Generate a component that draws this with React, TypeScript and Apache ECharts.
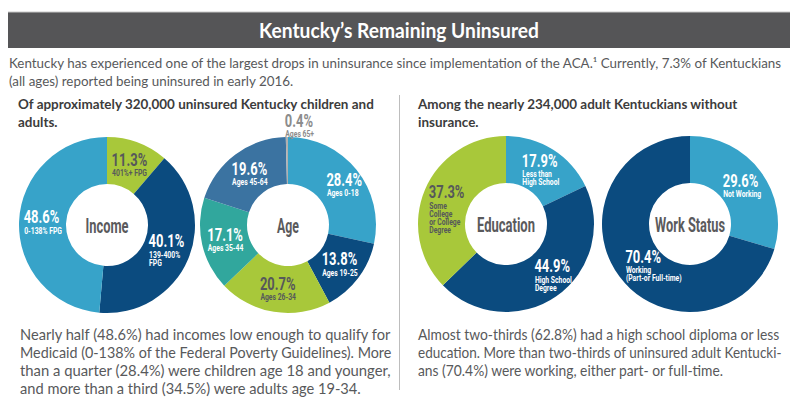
import React, { useEffect, useRef } from "react";
import * as echarts from "echarts";

const incomeNames = ["401%+ FPG", "139-400%\nFPG", "0-138% FPG"];
const incomeValues = [11.3, 40.1, 48.6];
const ageNames = ["Ages 0-18", "Ages 19-25", "Ages 26-34", "Ages 35-44", "Ages 45-64", "Ages 65+"];
const ageValues = [28.4, 13.8, 20.7, 17.1, 19.6, 0.4];
const eduNames = ["Less than\nHigh School", "High School\nDegree", "Some\nCollege\nor College\nDegree"];
const eduValues = [17.9, 44.9, 37.3];
const workNames = ["Not Working", "Working\n(Part-or Full-time)"];
const workValues = [29.6, 70.4];

const titleText = "Kentucky\u2019s Remaining Uninsured";
const introLines = [
  "Kentucky has experienced one of the largest drops in uninsurance since implementation of the ACA.\u00b9 Currently, 7.3% of Kentuckians",
  "(all ages) reported being uninsured in early 2016.",
];
const leftHeadLines = ["Of approximately 320,000 uninsured Kentucky children and", "adults."];
const rightHeadLines = ["Among the nearly 234,000 adult Kentuckians without", "insurance."];
const leftParaLines = [
  "Nearly half (48.6%) had incomes low enough to qualify for",
  "Medicaid (0-138% of the Federal Poverty Guidelines). More",
  "than a quarter (28.4%) were children age 18 and younger,",
  "and more than a third (34.5%) were adults age 19-34.",
];
const rightParaLines = [
  "Almost two-thirds (62.8%) had a high school diploma or less",
  "education. More than two-thirds of uninsured adult Kentucki-",
  "ans (70.4%) were working, either part- or full-time.",
];
const centerLabels = ["Income", "Age", "Education", "Work Status"];

const LIGHT = "#37a3c9";
const NAVY = "#0b4b7f";
const LIME = "#a8c83a";
const TEAL = "#31a79d";
const STEEL = "#3b73a1";
const GREYS = "#b0b0b0";

const COND = "Roboto, 'Noto Sans', sans-serif";
const BODY = "Lato, 'Open Sans', sans-serif";

let measureCtx: CanvasRenderingContext2D | null = null;
function measure(text: string, font: string): number {
  if (!measureCtx) measureCtx = document.createElement("canvas").getContext("2d");
  measureCtx!.font = font;
  return measureCtx!.measureText(text).width;
}

function textEl(text: string, x: number, y: number, font: string, fill: string, targetWidth: number | null, align: string = "left", scaleOverride?: number) {
  const s = scaleOverride ?? (targetWidth ? targetWidth / measure(text, font) : 1);
  return {
    type: "text",
    x,
    y,
    scaleX: s,
    silent: true,
    z: 10,
    style: { text, font, fill, textAlign: align, textVerticalAlign: "middle" },
  };
}

const PCT_FONT = `bold 18px ${COND}`;
const PCT_SCALE = 0.72;
const SUB_FONT = `bold 8.5px ${COND}`;
const SUB_SCALE = 0.8;
const R_IN = 41;
const R_OUT = 88;

// label blocks placed at each slice's middle angle (like the pie's own "inside" labels)
function sliceLabels(names: string[], values: number[], colors: string[], center: number[], offsets: Record<number, number[]> = {}) {
  const total = values.reduce((a, b) => a + b, 0);
  const rMid = (R_IN + R_OUT) / 2;
  let acc = 0;
  const els: any[] = [];
  values.forEach((v, i) => {
    const mid = ((acc + v / 2) / total) * Math.PI * 2;
    acc += v;
    const off = offsets[i] || [0, 0];
    const ax = center[0] + rMid * Math.sin(mid) + off[0];
    const ay = center[1] - rMid * Math.cos(mid) + off[1];
    const c = colors[i];
    const fill = c === LIME ? "#56585a" : c === GREYS ? "#8c8c8c" : "#ffffff";
    const pct = `${v.toFixed(1)}%`;
    const subs = names[i].split("\n");
    const w = Math.max(
      measure(pct, PCT_FONT) * PCT_SCALE,
      ...subs.map((s) => measure(s, SUB_FONT) * SUB_SCALE)
    );
    const H = 16 + 2 + 8 * subs.length;
    const left = ax - w / 2;
    const top = ay - H / 2;
    els.push(textEl(pct, left, top + 8, PCT_FONT, fill, null, "left", PCT_SCALE));
    subs.forEach((s, j) => {
      els.push(textEl(s, left + 0.5, top + 16 + 2 + 4 + 8 * j, SUB_FONT, fill, null, "left", SUB_SCALE));
    });
  });
  return els;
}

function pieSeries(names: string[], values: number[], colors: string[], center: number[]) {
  return {
    type: "pie",
    center,
    radius: [R_IN, R_OUT],
    startAngle: 90,
    clockwise: true,
    silent: true,
    emphasis: { disabled: true },
    label: { show: false },
    labelLine: { show: false },
    data: values.map((v, i) => ({ value: v, name: names[i], itemStyle: { color: colors[i] } })),
  };
}

export default function App() {
  const ref = useRef<HTMLDivElement>(null);
  useEffect(() => {
    document.body.style.margin = "0";
    const chart = echarts.init(ref.current!, null, { renderer: "svg" });

    const introFont = `14px ${BODY}`;
    const headFont = `bold 14px ${BODY}`;
    const paraFont = `14.5px ${BODY}`;
    const centerFont = `bold 21px ${COND}`;

    const introScale = 774 / measure(introLines[0], introFont);
    const lhScale = 357 / measure(leftHeadLines[0], headFont);
    const rhScale = 320 / measure(rightHeadLines[0], headFont);
    const lpScale = 372 / measure(leftParaLines[0], paraFont);
    const rpScale = 362 / measure(rightParaLines[0], paraFont);

    const centers = [[107, 225], [288, 225], [506, 224], [690, 224]];
    const centerWidths = [43, 22, 58, 70];
    const incomeColors = [LIME, NAVY, LIGHT];
    const ageColors = [LIGHT, NAVY, LIME, TEAL, STEEL, GREYS];
    const eduColors = [LIGHT, NAVY, LIME];
    const workColors = [LIGHT, NAVY];

    const graphic: any[] = [
      { type: "rect", silent: true, shape: { x: 8, y: 12, width: 782, height: 36 }, style: { fill: "#555557" } },
      { type: "line", silent: true, shape: { x1: 8, y1: 12, x2: 790, y2: 12 }, style: { stroke: "#c8c8c8", lineWidth: 1 } },
      textEl(titleText, 399, 30, `bold 20px ${BODY}`, "#ffffff", 280, "center"),
      textEl(introLines[0], 9, 62, introFont, "#58595b", null, "left", introScale),
      textEl(introLines[1], 9, 80, introFont, "#58595b", null, "left", introScale),
      textEl(leftHeadLines[0], 18, 103, headFont, "#3c3c3c", null, "left", lhScale),
      textEl(leftHeadLines[1], 18, 121, headFont, "#3c3c3c", null, "left", lhScale),
      textEl(rightHeadLines[0], 418, 103, headFont, "#3c3c3c", null, "left", rhScale),
      textEl(rightHeadLines[1], 418, 121, headFont, "#3c3c3c", null, "left", rhScale),
      { type: "line", silent: true, shape: { x1: 399.5, y1: 95, x2: 399.5, y2: 390 }, style: { stroke: "#bdbdbd", lineWidth: 1 } },
      ...leftParaLines.map((t, i) =>
        textEl(t, 20, 335 + i * 17.7, paraFont, "#58595b", i < 3 ? 372 : null, "left", i < 3 ? undefined : lpScale)
      ),
      ...rightParaLines.map((t, i) =>
        textEl(t, 418, 334 + i * 18, paraFont, "#58595b", i < 2 ? (i === 0 ? 362 : 364) : null, "left", i < 2 ? undefined : rpScale)
      ),
      ...centerLabels.map((t, i) =>
        textEl(t, centers[i][0], centers[i][1] + 1, centerFont, "#5a5a5c", centerWidths[i], "center")
      ),
      ...sliceLabels(incomeNames, incomeValues, incomeColors, centers[0]),
      ...sliceLabels(ageNames, ageValues, ageColors, centers[1], { 0: [6, 0], 5: [12, -35] }),
      ...sliceLabels(eduNames, eduValues, eduColors, centers[2], { 1: [10, -2], 2: [0, 10] }),
      ...sliceLabels(workNames, workValues, workColors, centers[3], { 1: [15, 3] }),
    ];

    const option: any = {
      animation: false,
      backgroundColor: "#ffffff",
      series: [
        pieSeries(incomeNames, incomeValues, incomeColors, centers[0]),
        pieSeries(ageNames, ageValues, ageColors, centers[1]),
        pieSeries(eduNames, eduValues, eduColors, centers[2]),
        pieSeries(workNames, workValues, workColors, centers[3]),
      ],
      graphic,
    };
    chart.setOption(option);
    return () => chart.dispose();
  }, []);
  return <div ref={ref} style={{ width: 800, height: 398 }} />;
}
